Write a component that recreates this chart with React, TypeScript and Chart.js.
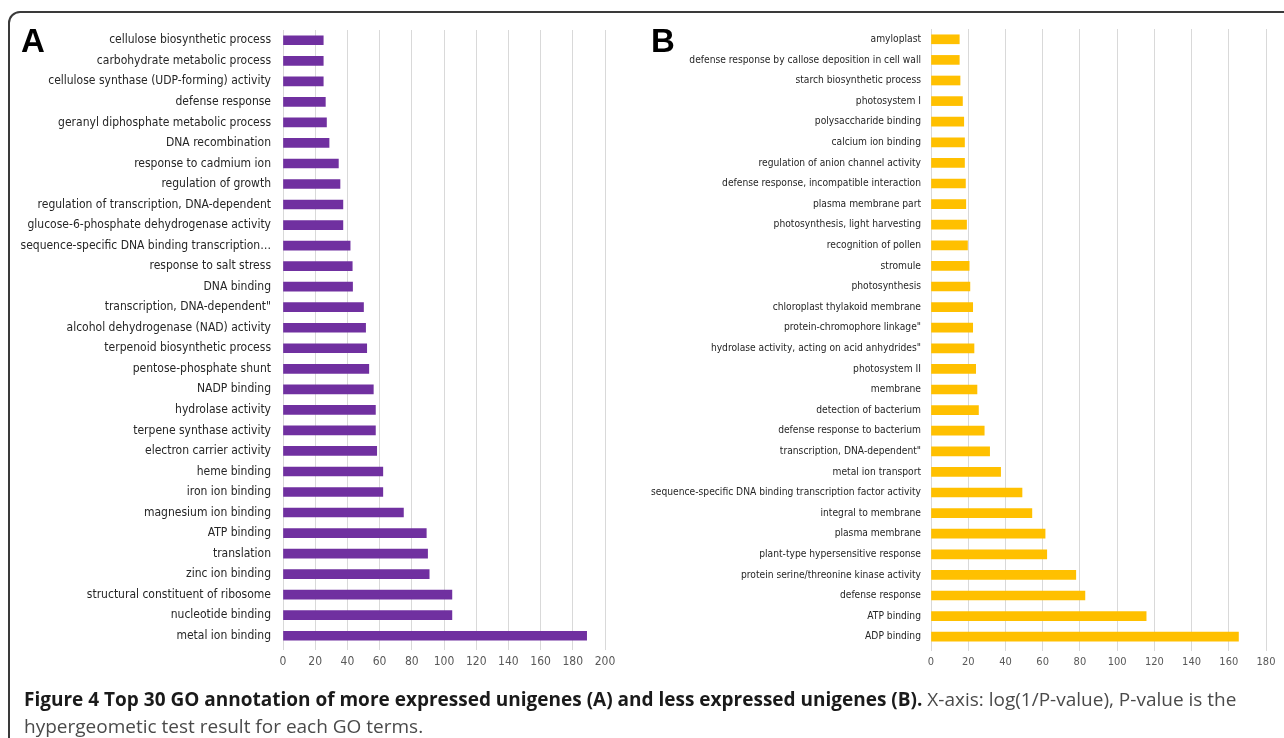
import React, { useEffect, useRef } from "react";
import { Chart, registerables } from "chart.js";

Chart.register(...registerables);

const labelsA = [
  "cellulose biosynthetic process",
  "carbohydrate metabolic process",
  "cellulose synthase (UDP-forming) activity",
  "defense response",
  "geranyl diphosphate metabolic process",
  "DNA recombination",
  "response to cadmium ion",
  "regulation of growth",
  "regulation of transcription, DNA-dependent",
  "glucose-6-phosphate dehydrogenase activity",
  "sequence-specific DNA binding transcription…",
  "response to salt stress",
  "DNA binding",
  "transcription, DNA-dependent\"",
  "alcohol dehydrogenase (NAD) activity",
  "terpenoid biosynthetic process",
  "pentose-phosphate shunt",
  "NADP binding",
  "hydrolase activity",
  "terpene synthase activity",
  "electron carrier activity",
  "heme binding",
  "iron ion binding",
  "magnesium ion binding",
  "ATP binding",
  "translation",
  "zinc ion binding",
  "structural constituent of ribosome",
  "nucleotide binding",
  "metal ion binding",
];
const valuesA = [
  25, 25, 25, 26.3, 27, 28.6, 34.4, 35.4, 37.2, 37.2, 41.7, 43, 43.2, 50, 51.3,
  52, 53.3, 56.1, 57.4, 57.4, 58.2, 62, 62, 74.8, 89, 89.8, 90.8, 104.9, 104.9,
  188.6,
];

const labelsB = [
  "amyloplast",
  "defense response by callose deposition in cell wall",
  "starch biosynthetic process",
  "photosystem I",
  "polysaccharide binding",
  "calcium ion binding",
  "regulation of anion channel activity",
  "defense response, incompatible interaction",
  "plasma membrane part",
  "photosynthesis, light harvesting",
  "recognition of pollen",
  "stromule",
  "photosynthesis",
  "chloroplast thylakoid membrane",
  "protein-chromophore linkage\"",
  "hydrolase activity, acting on acid anhydrides\"",
  "photosystem II",
  "membrane",
  "detection of bacterium",
  "defense response to bacterium",
  "transcription, DNA-dependent\"",
  "metal ion transport",
  "sequence-specific DNA binding transcription factor activity",
  "integral to membrane",
  "plasma membrane",
  "plant-type hypersensitive response",
  "protein serine/threonine kinase activity",
  "defense response",
  "ATP binding",
  "ADP binding",
];
const valuesB = [
  15.2, 15.2, 15.6, 16.9, 17.6, 18, 18, 18.5, 18.7, 19.1, 19.6, 20.5, 20.9,
  22.4, 22.4, 23.1, 24, 24.7, 25.5, 28.6, 31.5, 37.4, 48.9, 54.2, 61.3, 62.2,
  77.8, 82.7, 115.6, 165.2,
];

const axisMaxA = 200;
const axisMaxB = 180;
const tickStep = 20;

const NARROW = "'Liberation Sans Narrow', 'DejaVu Sans Condensed', 'Arial Narrow', sans-serif";

type PanelCfg = {
  labels: string[];
  values: number[];
  max: number;
  color: string;
  yWidth: number;
  padTop: number;
  padRight: number;
  xHeight: number;
  labelSize: number;
  tickSize: number;
  labelPad: number;
  width: number;
  height: number;
};

function BarPanel(props: PanelCfg) {
  const ref = useRef<HTMLCanvasElement | null>(null);
  useEffect(() => {
    if (!ref.current) return;
    const chart = new Chart(ref.current, {
      type: "bar",
      data: {
        labels: props.labels,
        datasets: [
          {
            data: props.values,
            backgroundColor: props.color,
            borderWidth: 0,
            barThickness: 9,
          },
        ],
      },
      options: {
        indexAxis: "y",
        responsive: false,
        animation: false,
        devicePixelRatio: 1,
        layout: {
          padding: { top: props.padTop, right: props.padRight, left: 0, bottom: 0 },
        },
        plugins: {
          legend: { display: false },
          tooltip: { enabled: false },
        },
        scales: {
          x: {
            min: 0,
            max: props.max,
            border: { display: false },
            grid: {
              color: "#d9d9d9",
              lineWidth: 1,
              drawTicks: true,
              tickLength: 4,
              tickColor: "#d9d9d9",
            },
            ticks: {
              stepSize: tickStep,
              color: "#595959",
              padding: 5,
              font: { family: NARROW, size: props.tickSize },
            },
            afterFit: (s: any) => {
              s.height = props.xHeight;
            },
          },
          y: {
            border: { display: false },
            grid: { display: false, drawTicks: false },
            ticks: {
              color: "#262626",
              padding: props.labelPad,
              autoSkip: false,
              font: { family: NARROW, size: props.labelSize },
            },
            afterFit: (s: any) => {
              s.width = props.yWidth;
            },
          },
        },
      },
    });
    return () => chart.destroy();
  }, []);
  return (
    <canvas
      ref={ref}
      width={props.width}
      height={props.height}
      style={{ width: props.width, height: props.height, display: "block" }}
    />
  );
}

export default function App() {
  return (
    <div
      style={{
        position: "absolute",
        left: 0,
        top: 0,
        width: 1284,
        height: 738,
        overflow: "hidden",
        background: "#ffffff",
      }}
    >
      <div
        style={{
          position: "absolute",
          left: 8,
          top: 11,
          width: 1320,
          height: 742,
          border: "2px solid #3a3a3a",
          borderRadius: 12,
          boxSizing: "border-box",
        }}
      />
      <div style={{ position: "absolute", left: 0, top: 0 }}>
        <BarPanel
          labels={labelsA}
          values={valuesA}
          max={axisMaxA}
          color="#7030A0"
          yWidth={283}
          padTop={30}
          padRight={35}
          xHeight={44}
          labelSize={12}
          tickSize={12}
          labelPad={12}
          width={640}
          height={690}
        />
      </div>
      <div style={{ position: "absolute", left: 640, top: 0 }}>
        <BarPanel
          labels={labelsB}
          values={valuesB}
          max={axisMaxB}
          color="#FFC000"
          yWidth={291}
          padTop={29}
          padRight={18}
          xHeight={43}
          labelSize={10.2}
          tickSize={11}
          labelPad={10}
          width={644}
          height={690}
        />
      </div>
      <div
        style={{
          position: "absolute",
          left: 21,
          top: 22,
          fontFamily: "'Liberation Sans', Arial, sans-serif",
          fontWeight: 700,
          fontSize: 33,
          lineHeight: "38px",
          color: "#000",
        }}
      >
        A
      </div>
      <div
        style={{
          position: "absolute",
          left: 651,
          top: 22,
          fontFamily: "'Liberation Sans', Arial, sans-serif",
          fontWeight: 700,
          fontSize: 33,
          lineHeight: "38px",
          color: "#000",
        }}
      >
        B
      </div>
      <div
        style={{
          position: "absolute",
          left: 24,
          top: 686,
          width: 1256,
          fontFamily: "'Open Sans', 'Noto Sans', sans-serif",
          fontSize: 19,
          lineHeight: "27px",
          color: "#4a4a4a",
          whiteSpace: "nowrap",
        }}
      >
        <span style={{ fontWeight: 700, color: "#1a1a1a" }}>
          Figure 4 Top 30 GO annotation of more expressed unigenes (A) and less expressed unigenes (B).
        </span>{" "}
        X-axis: log(1/P-value), P-value is the
        <br />
        hypergeometic test result for each GO terms.
      </div>
    </div>
  );
}
